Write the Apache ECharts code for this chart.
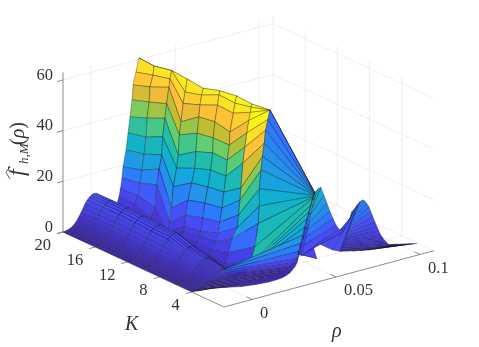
<!DOCTYPE html>
<html>
<head>
<meta charset="utf-8">
<style>
  html, body { margin: 0; padding: 0; background: #fff; }
  #chart { width: 479px; height: 347px; }
</style>
<script src="https://cdn.jsdelivr.net/npm/echarts@6/dist/echarts.min.js"></script>
</head>
<body>
<div id="chart"></div>
<script>
// rho is kept in thousandths
const kRows = [20, 18, 16, 14, 12, 10, 8, 6, 4, 3, 2];
const kTicks = [4, 8, 12, 16, 20];
const rhoTicks = [0, 50, 100];
const rhoTickLabels = ["0", "0.05", "0.1"];
const fTicks = [0, 20, 40, 60];
const kLim = [0, 20];
const rhoLim = [-16.7, 108.3];
const fLim = [0, 63];

const rhoBump = [-16.7, -14.9, -13.1, -11.9, -10.7, -9.6, -8.4, -7.2, -6, -4.8, -3.6, -2.4, -1.2, 0, 1.2, 3, 5.3, 8.3, 11.3, 13.1, 14.8, 16.6];
const rhoBack = [30.9, 33.9, 36.9, 42.8, 57.7];
const fBack = [50, 35, 20, 5, 0];

const rhoWall20 = [17.5, 18.4, 19, 20.8, 22, 23.2, 24.4, 25, 26.7, 28.5, 28.6];
const rhoWall18 = [18.4, 19.6, 20.8, 22, 23.2, 23.8, 25, 25.5, 27.3, 27.9, 28];
const rhoWall16 = [19, 19.9, 21.4, 22.9, 23.5, 24.8, 25.8, 27.2, 27.8, 28.8, 28.9];
const rhoWall14 = [16.6, 18.2, 19.2, 20.2, 22.2, 23.2, 23.8, 24.8, 26.1, 27.2, 28.5];
const rhoWall12 = [17.2, 18.2, 19.4, 21.6, 23.5, 24.1, 24.9, 25.9, 26.5, 27.5, 28.5];
const rhoWall10 = [17.5, 18.7, 19.9, 21.7, 23.3, 24.5, 24.8, 25.8, 27.4, 28.2, 28.8];
const rhoWall8 = [18.2, 19.2, 20.4, 21.6, 22.8, 23.6, 24.8, 25.2, 27.2, 28.2, 29.1];
const rhoWall6 = [20, 20.7, 21.6, 22.2, 23.3, 24.5, 25.7, 26.9, 27.8, 28.2, 28.5];

const fLow20 = [0, 0.2, 0.5, 0.9, 1.4, 2.2, 3.2, 4.4, 5.8, 7.3, 8.8, 10, 10.9, 11.5, 11.9, 11.8, 10.5, 6.5, 3, 2, 4, 8];
const fLow18 = [0, 0.2, 0.5, 0.9, 1.5, 2.3, 3.3, 4.5, 6, 7.4, 8.9, 10.1, 11, 11.6, 12, 11.9, 10.4, 6.4, 2.9, 2, 4, 8];
const fLow16 = [0.1, 0.2, 0.6, 1, 1.6, 2.4, 3.4, 4.6, 6, 7.5, 9, 10.2, 11.1, 11.7, 12, 11.9, 10.2, 6, 2.5, 1.5, 3, 6];
const fLow14 = [0.1, 0.3, 0.6, 1, 1.6, 2.4, 3.4, 4.6, 6, 7.4, 8.9, 10, 10.9, 11.5, 11.8, 11.6, 10, 5.8, 2.4, 1, 1.5, 2];
const fLow12 = [0.1, 0.3, 0.6, 1, 1.6, 2.3, 3.3, 4.5, 5.8, 7.1, 8.5, 9.6, 10.4, 11, 11.2, 11.1, 9.6, 5.5, 2.5, 2, 4, 6];
const fLow10 = [0.1, 0.3, 0.6, 1, 1.5, 2.3, 3.2, 4.4, 5.6, 7, 8.3, 9.4, 10.3, 10.8, 11, 10.9, 9.5, 5.6, 2.7, 3, 5, 7];
const fLow8 = [0.1, 0.3, 0.5, 0.8, 1.2, 1.9, 2.7, 3.6, 4.6, 5.7, 6.7, 7.6, 8.2, 8.6, 8.8, 8.7, 7.6, 4.6, 2.4, 3, 5, 8];
const fLow6 = [0.1, 0.2, 0.4, 0.7, 1, 1.6, 2.2, 2.9, 3.8, 4.7, 5.5, 6.2, 6.8, 7.1, 7.3, 7.2, 6.3, 4, 2.2, 3, 7, 12];

const fWall20 = [11, 15.1, 19.3, 25.7, 32.2, 38.3, 44.8, 50.6, 55.4, 60.6, 60.6];
const fWall18 = [11, 15.8, 20.7, 26.8, 33.3, 40.7, 46.8, 52.7, 57, 60.5, 60.5];
const fWall16 = [9.4, 18, 24, 29.3, 36.4, 43.4, 49, 55.2, 58.4, 61.5, 61.5];
const fWall14 = [3, 6.2, 12, 20.2, 27.2, 32.1, 40, 45, 52, 56.3, 61.2];
const fWall12 = [8, 12.3, 18, 24.4, 29.8, 36.3, 43.4, 49.7, 54.3, 58, 60.5];
const fWall10 = [9, 14, 19.7, 25.7, 32.2, 38.7, 44.5, 50.7, 57, 60.9, 62.4];
const fWall8 = [11, 15.3, 20.6, 26.7, 32.8, 39, 44.7, 49.8, 56.8, 60.6, 63.3];
const fWall6 = [16, 20.8, 26.5, 31.2, 40.8, 46.9, 52.3, 57, 60, 62, 63.2];

const rhoK4 = [-16.7, -14.9, -13.1, -11.9, -10.7, -9.6, -8.4, -7.2, -6, -4.8, -3.6, -2.4, -1.2, 0, 1.2, 3,
  8.3, 11.9, 15.4, 18.3, 20.9, 22.9,
  23.5, 23.5, 24.5, 25.4, 26.4, 27.2, 28.6, 29.8, 29.8, 29.8, 29.8,
  30.9, 33.9, 36.9, 42.8, 57.7];
const fK4 = [0.1, 0.2, 0.3, 0.5, 0.8, 1.2, 1.7, 2.2, 2.8, 3.4, 4, 4.5, 5, 5.3, 5.5, 5.5,
  1, 1.5, 3, 5.1, 11.2, 20,
  26.8, 33.6, 40.8, 46, 51, 56, 60, 63.5, 63.5, 63.5, 63.5,
  50, 35, 20, 5, 0];

const rhoK3 = [-18.5, -11.4, -2.4, 5.9, 14.2, 21.4, 26.7, 30.3, 33.3, 35.7, 37.4, 39.2, 41, 42.2, 43.4, 44.6, 45.8, 47, 48.2, 49.3, 50.5,
  50.8, 50.9, 51.1, 51.2, 51.3, 51.4, 51.5, 51.6, 51.7, 51.7, 51.8, 51.8,
  51.1, 50.4, 49.3, 48.6, 47.6, 46.4, 45.2, 43.4, 47.6, 53.5, 58.3, 62.4, 66.6, 69.6,
  73.7, 73.1, 72.6, 72.3, 72, 71.4, 71.1, 70.8, 70.2, 69.6, 69, 68.4, 68.1, 67.8, 67.2, 66.6,
  70.2, 74.3, 78.5, 83.3, 87.4, 91.6, 95.2, 97.5];
const fK3 = [2.2, 1.8, 0.9, 0.5, 0.3, 0.3, 0.3, 0.4, 0.7, 1.2, 2, 3, 4.5, 7, 10, 13, 16, 19, 21.5, 24, 26.5,
  27, 27.3, 27.6, 27.8, 28, 28.1, 28.2, 28.3, 28.3, 28.4, 28.4, 28.4,
  25.7, 23.1, 20.5, 17.5, 14.9, 12, 9, 5, 6.2, 8.3, 5.9, 4, 2.8, 7,
  17, 15.5, 14, 12.5, 11.4, 10.3, 9.3, 8.4, 7.7, 7, 6.4, 5.7, 5, 4.2, 3.5, 2.8,
  2.2, 1.5, 0.9, 0.3, 0, 0, 0, 0];

const rhoK2 = [-23.2, -13.7, -4.8, 3.5, 11.9, 19, 23.8, 27.3, 29.7, 32.1, 33.3, 35.1, 36.3, 37.4, 38.6, 39.8, 41, 42.2, 43.4, 44.6, 45.8,
  46.1, 46.2, 46.3, 46.4, 46.5, 46.6, 46.7, 46.7, 46.8, 46.9, 47, 47,
  48.8, 50.5, 52.3, 54.1, 55.9, 57.7, 59.5, 61.2, 63.6, 65.4, 67.8, 70.2, 72, 73.7,
  75.5, 76.7, 77.9, 79.1, 80.3, 81.5, 82.7, 83.9, 85, 86.2, 87.4, 88.6, 89.8, 91, 92.2, 93.4,
  94.6, 95.8, 97.5, 99.3, 101.1, 103.5, 105.3, 107.7];
const fK2 = [4.5, 4, 2.7, 1.5, 0.8, 0.5, 0.5, 0.7, 1.1, 1.8, 2.6, 3.7, 5, 7.5, 10.5, 13.4, 17, 20, 23, 26.5, 29,
  29.5, 29.8, 30, 30.2, 30.4, 30.5, 30.6, 30.7, 30.8, 30.9, 31, 31,
  32, 32.3, 29, 25.5, 22, 18.9, 16, 14, 12.4, 14, 17, 19.5, 21.5, 22.5,
  22.9, 22.3, 21, 19.6, 17.4, 15.2, 13, 10.9, 9, 7.2, 5.8, 4.6, 3.5, 2.6, 2.1, 1.8,
  1.5, 1.3, 1.1, 0.9, 0.7, 0.4, 0.2, 0];

// colour values of the faces from K=4 to K=3, starting at fanFirst
const fanFirst = 10;
const fanShade = [7, 10, 14, 18, 22, 25, 28, 31, 33, 34, 32, 30, 28, 25, 23, 21, 19, 17.5, 16, 16, 16, 16];

// rows in drawing order, far to near
const rhoRows = [
  [...rhoBump, ...rhoWall20, ...rhoBack],
  [...rhoBump, ...rhoWall18, ...rhoBack],
  [...rhoBump, ...rhoWall16, ...rhoBack],
  [...rhoBump, ...rhoWall14, ...rhoBack],
  [...rhoBump, ...rhoWall12, ...rhoBack],
  [...rhoBump, ...rhoWall10, ...rhoBack],
  [...rhoBump, ...rhoWall8, ...rhoBack],
  [...rhoBump, ...rhoWall6, ...rhoBack],
  rhoK4, rhoK3, rhoK2
];
const fRows = [
  [...fLow20, ...fWall20, ...fBack],
  [...fLow18, ...fWall18, ...fBack],
  [...fLow16, ...fWall16, ...fBack],
  [...fLow14, ...fWall14, ...fBack],
  [...fLow12, ...fWall12, ...fBack],
  [...fLow10, ...fWall10, ...fBack],
  [...fLow8, ...fWall8, ...fBack],
  [...fLow6, ...fWall6, ...fBack],
  fK4, fK3, fK2
];

// colour stops, by f value
const colorStops = [
  [0, 62, 38, 168], [6, 68, 58, 222], [12, 72, 78, 250], [17, 45, 120, 255],
  [22, 35, 150, 232], [28, 15, 175, 210], [35, 35, 190, 165], [41, 100, 207, 110],
  [47, 190, 190, 50], [52, 255, 185, 60], [57, 252, 215, 45], [61, 250, 240, 25], [64, 250, 250, 20]
];

function faceColor(f) {
  for (let i = 1; i < colorStops.length; i++) {
    if (f <= colorStops[i][0]) {
      const a = colorStops[i - 1], b = colorStops[i];
      const t = Math.max(0, (f - a[0]) / (b[0] - a[0]));
      return "rgb(" + [1, 2, 3].map((c) => Math.round(a[c] + (b[c] - a[c]) * t)).join(",") + ")";
    }
  }
  return "rgb(250,250,20)";
}

// view of the 3d box, gives pixel position on the hidden 2d axes
function project(k, rho, f) {
  const u = 1.68 * (rho - rhoLim[0]);
  return [224 - 8.05 * k + u, 307 - 3.75 * k - 0.268 * u - 2.535 * f];
}

// surface faces, painter's order
const faces = [];
for (let r = 0; r < kRows.length - 1; r++) {
  const n = Math.min(fRows[r].length, fRows[r + 1].length);
  for (let j = n - 2; j >= 0; j--) {
    let shade = (fRows[r][j] + fRows[r][j + 1] + fRows[r + 1][j] + fRows[r + 1][j + 1]) / 4;
    if (kRows[r] === 6) {
      shade = (fRows[r + 1][j] + fRows[r + 1][j + 1]) / 2;
    }
    if (kRows[r] === 4 && fanShade[j - fanFirst] !== undefined) {
      shade = fanShade[j - fanFirst];
    }
    faces.push([
      kRows[r], rhoRows[r][j], fRows[r][j],
      kRows[r], rhoRows[r][j + 1], fRows[r][j + 1],
      kRows[r + 1], rhoRows[r + 1][j + 1], fRows[r + 1][j + 1],
      kRows[r + 1], rhoRows[r + 1][j], fRows[r + 1][j],
      shade
    ]);
  }
}

// box lines
const gridLines = [];
kTicks.forEach((k) => {
  gridLines.push([k, rhoLim[0], 0, k, rhoLim[1], 0]);
  gridLines.push([k, rhoLim[1], 0, k, rhoLim[1], fLim[1]]);
});
rhoTicks.forEach((rho) => {
  gridLines.push([kLim[0], rho, 0, kLim[1], rho, 0]);
  gridLines.push([kLim[1], rho, 0, kLim[1], rho, fLim[1]]);
});
fTicks.forEach((f) => {
  gridLines.push([kLim[1], rhoLim[0], f, kLim[1], rhoLim[1], f]);
  gridLines.push([kLim[0], rhoLim[1], f, kLim[1], rhoLim[1], f]);
});

const axisLines = [
  [kLim[1], rhoLim[0], 0, kLim[1], rhoLim[0], fLim[1]],
  [kLim[0], rhoLim[0], 0, kLim[1], rhoLim[0], 0],
  [kLim[0], rhoLim[0], 0, kLim[0], rhoLim[1], 0]
];
kTicks.forEach((k) => axisLines.push([k, rhoLim[0], 0, k, rhoLim[0] - 3.6, 0]));
fTicks.forEach((f) => axisLines.push([kLim[1], rhoLim[0], f, kLim[1], rhoLim[0] - 3.6, f]));
rhoTicks.forEach((rho) => axisLines.push([kLim[0], rho, 0, kLim[0] + 0.7, rho, 0]));

const tickTexts = [];
kTicks.forEach((k) => tickTexts.push({ p: [k, rhoLim[0], 0], dx: -12, dy: 14, align: "right", text: String(k) }));
fTicks.forEach((f) => tickTexts.push({ p: [kLim[1], rhoLim[0], f], dx: -10, dy: -4.5, align: "right", text: String(f) }));
rhoTicks.forEach((rho, i) => tickTexts.push({ p: [kLim[0], rho, 0], dx: 8, dy: 14, align: "left", text: rhoTickLabels[i] }));

function lineSeries(data, color, width) {
  return {
    type: "custom",
    silent: true,
    clip: false,
    animation: false,
    data: data,
    renderItem: function (params, api) {
      const a = api.coord(project(api.value(0), api.value(1), api.value(2)));
      const b = api.coord(project(api.value(3), api.value(4), api.value(5)));
      return {
        type: "line",
        shape: { x1: a[0], y1: a[1], x2: b[0], y2: b[1] },
        style: { stroke: color, lineWidth: width }
      };
    }
  };
}

const serif = "'Liberation Serif', serif";
const chart = echarts.init(document.getElementById("chart"));
chart.setOption({
  animation: false,
  backgroundColor: "#fff",
  grid: { left: 0, right: 0, top: 0, bottom: 0 },
  xAxis: { type: "value", min: 0, max: 479, show: false },
  yAxis: { type: "value", min: 0, max: 347, inverse: true, show: false },
  series: [
    lineSeries(gridLines, "#e8e8e8", 0.7),
    lineSeries(axisLines, "#808080", 0.9),
    {
      type: "custom",
      silent: true,
      clip: false,
      animation: false,
      data: faces,
      renderItem: function (params, api) {
        const pts = [];
        for (let c = 0; c < 4; c++) {
          pts.push(api.coord(project(api.value(c * 3), api.value(c * 3 + 1), api.value(c * 3 + 2))));
        }
        return {
          type: "polygon",
          shape: { points: pts },
          style: { fill: faceColor(api.value(12)), stroke: "rgba(25,25,35,0.6)", lineWidth: 0.55, lineJoin: "round" }
        };
      }
    },
    {
      type: "custom",
      silent: true,
      clip: false,
      animation: false,
      data: tickTexts.map((t) => t.p),
      renderItem: function (params, api) {
        const t = tickTexts[params.dataIndex];
        const a = api.coord(project(t.p[0], t.p[1], t.p[2]));
        return {
          type: "text",
          x: a[0] + t.dx,
          y: a[1] + t.dy,
          style: { text: t.text, align: t.align, verticalAlign: "middle", fill: "#333", font: "16.5px " + serif }
        };
      }
    }
  ],
  graphic: [
    { type: "text", left: 125, top: 315, style: { text: "K", fill: "#333", font: "italic 20px " + serif } },
    { type: "text", left: 332, top: 322, style: { text: "ρ", fill: "#333", font: "italic 20px " + serif } },
    { type: "text", x: 6, y: 176, rotation: Math.PI / 2, style: { text: "f", fill: "#333", font: "italic 24px " + serif, verticalAlign: "top" } },
    { type: "polyline", shape: { points: [[10, 179], [6, 172.5], [10, 166]] }, style: { stroke: "#333", fill: "none", lineWidth: 0.8 } },
    { type: "text", x: 18, y: 164, rotation: Math.PI / 2, style: { text: "h,M", fill: "#333", font: "italic 13px " + serif, verticalAlign: "top" } },
    {
      type: "text", x: 9, y: 145, rotation: Math.PI / 2,
      style: {
        text: "{n|(}{i|ρ}{n|)}", verticalAlign: "top", fill: "#333",
        rich: {
          n: { font: "20px " + serif, fill: "#333" },
          i: { font: "italic 20px " + serif, fill: "#333" }
        }
      }
    }
  ]
});
</script>
</body>
</html>
